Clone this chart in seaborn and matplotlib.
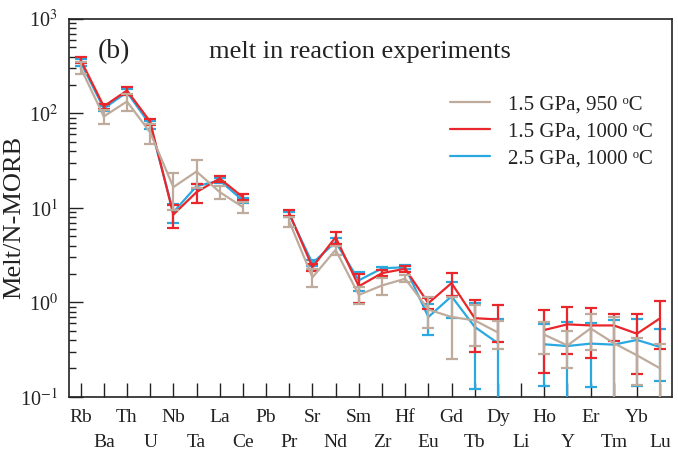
import numpy as np
import pandas as pd
import matplotlib
matplotlib.use("Agg")
import matplotlib.pyplot as plt
import seaborn as sns
from matplotlib.ticker import LogLocator, NullFormatter
from matplotlib.lines import Line2D

elements = ["Rb", "Ba", "Th", "U", "Nb", "Ta", "La", "Ce", "Pb", "Pr", "Sr", "Nd", "Sm",
            "Zr", "Hf", "Eu", "Gd", "Tb", "Dy", "Li", "Ho", "Y", "Er", "Tm", "Yb", "Lu"]
nan = np.nan

tan_950 = [305, 93, 134, 63, 16.6, 24.3, 14.7, 10.2, nan, 7.2, 1.84, 3.6, 1.2,
           1.51, 1.78, 0.84, 0.70, 0.645, 0.48, nan, 0.455, 0.35, 0.53, 0.37, 0.275, 0.2]
tan_950_err = [45, 16, 28, 15, 7, 8, 2.2, 1.4, nan, 0.9, 0.4, 0.4, 0.25,
               0.3, 0.15, 0.3, 0.45, 0.3, 0.16, nan, 0.17, 0.15, 0.22, 0.33, 0.14, 0.16]

red_1000 = [370, 119, 175, 82, 8.5, 14.7, 20.5, 13, nan, 8.8, 2.36, 4.9, 1.48,
            2.04, 2.27, 0.98, 1.6, 0.68, 0.66, nan, 0.51, 0.585, 0.57, 0.57, 0.466, 0.68]
red_1000_err = [25, 8, 18, 6, 2.3, 3.3, 1.5, 1.0, nan, 0.6, 0.2, 0.7, 0.5,
                0.15, 0.15, 0.12, 0.44, 0.38, 0.28, nan, 0.33, 0.3, 0.31, 0.18, 0.29, 0.36]

blue_1000 = [350, 113, 168, 76, 9.0, 17, 19.5, 12, nan, 8.5, 2.6, 4.35, 1.71,
             2.29, 2.36, 0.70, 1.16, 0.55, 0.37, nan, 0.36, 0.345, 0.366, 0.357, 0.40, 0.337]
blue_1000_err = [30, 8, 12, 8, 2, 1, 1.2, 0.8, nan, 0.5, 0.2, 0.4, 0.4,
                 0.1, 0.1, 0.25, 0.48, 0.43, 0.29, nan, 0.23, 0.28, 0.24, 0.3, 0.27, 0.19]

labels = ["1.5 GPa, 950 \u1d52C", "1.5 GPa, 1000 \u1d52C", "2.5 GPa, 1000 \u1d52C"]
colors = ["#bfab9c", "#e8262b", "#2aa8e0"]

sns.set_style("ticks")
plt.rcParams["font.family"] = ["Liberation Serif", "DejaVu Serif"]
plt.rcParams["mathtext.fontset"] = "stix"

fig = plt.figure(figsize=(6.78, 4.53), dpi=100)
ax = fig.add_axes([0.1018, 0.124, 0.889, 0.834])

pos = np.arange(len(elements))
seg = np.cumsum(np.isnan(np.array(tan_950, dtype=float)))

series = [(labels[0], tan_950, tan_950_err),
          (labels[1], red_1000, red_1000_err),
          (labels[2], blue_1000, blue_1000_err)]

# draw blue first, then red, then tan on top
for idx in [2, 1, 0]:
    name, vals, errs = series[idx]
    df = pd.DataFrame({"pos": pos, "val": vals, "err": errs, "seg": seg})
    df = df.dropna()
    sns.lineplot(data=df, x="pos", y="val", units="seg", estimator=None,
                 color=colors[idx], lw=1.6, ax=ax, legend=False, zorder=3 + (2 - idx))
    v = df["val"].to_numpy()
    e = df["err"].to_numpy()
    low = np.minimum(e, v - 0.09)
    ax.errorbar(df["pos"], v, yerr=[low, e], fmt="none", ecolor=colors[idx],
                elinewidth=1.6, capsize=4, capthick=1.6, zorder=3 + (2 - idx))

ax.set_yscale("log")
ax.set_ylim(0.1, 1000)
ax.set_xlim(-0.5, len(elements) - 0.5)

ax.yaxis.set_minor_locator(LogLocator(base=10, subs=np.arange(2, 10), numticks=10))
ax.yaxis.set_minor_formatter(NullFormatter())
ax.set_yticks([0.1, 1, 10, 100, 1000])
ax.set_yticklabels(["10$^{-1}$", "10$^{0}$", "10$^{1}$", "10$^{2}$", "10$^{3}$"])

ax.set_xticks(pos)
ax.set_xticklabels([el if i % 2 == 0 else "\n" + el for i, el in enumerate(elements)],
                   linespacing=1.6)

ax.tick_params(axis="both", which="major", direction="in", length=10, width=1,
               colors="#222222", labelcolor="#222222")
ax.tick_params(axis="x", labelsize=14, pad=9)
ax.tick_params(axis="y", labelsize=14.5, pad=8)
ax.tick_params(axis="y", which="minor", direction="in", length=5, width=1, color="#222222")

for s in ax.spines.values():
    s.set_visible(True)
    s.set_linewidth(1.2)
    s.set_color("#222222")

ax.set_xlabel("")
ax.set_ylabel("Melt/N-MORB", fontsize=19, color="#222222")
ax.yaxis.set_label_coords(-0.073, 0.476)

ax.text(0.047, 0.913, "(b)", transform=ax.transAxes, fontsize=20, color="#222222", va="center")
ax.text(0.232, 0.913, "melt in reaction experiments", transform=ax.transAxes,
        fontsize=19, color="#222222", va="center")

handles = [Line2D([0], [0], color=colors[i], lw=1.6) for i in range(3)]
leg = ax.legend(handles, labels, loc="upper right", bbox_to_anchor=(1.0, 0.848),
                frameon=False, fontsize=15, handlelength=1.9, labelspacing=0.35,
                handletextpad=0.9)
for t in leg.get_texts():
    t.set_color("#222222")

fig.savefig("out.png", dpi=100)
